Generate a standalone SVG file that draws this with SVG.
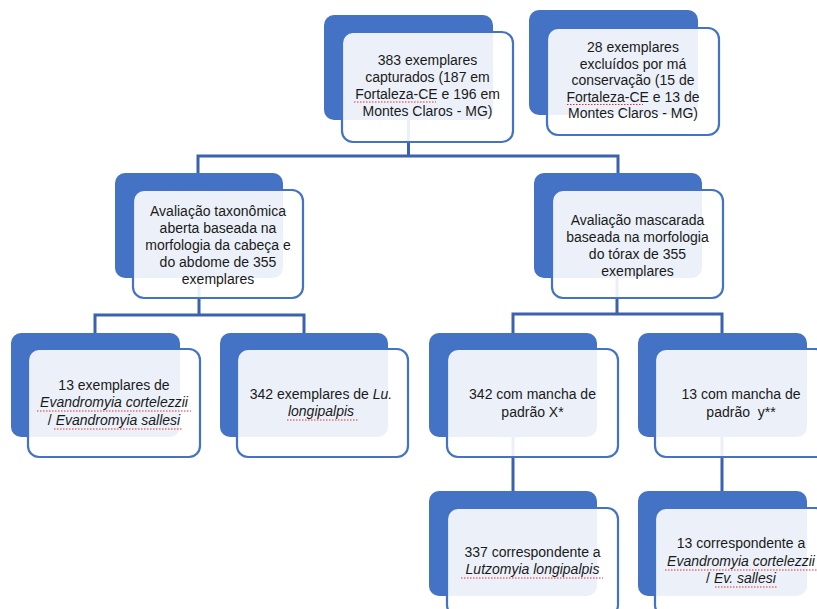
<svg xmlns="http://www.w3.org/2000/svg" width="817" height="609" viewBox="0 0 817 609">
<style>
.back{fill:#4472C4;}
.front{fill:#FFFFFF;fill-opacity:0.9;stroke:#4472C4;stroke-width:2.2;}
.conn{stroke:#3A62AE;stroke-width:3;fill:none;}
text{font-family:"Liberation Sans",Arial,sans-serif;font-size:14px;fill:#1a1a1a;text-anchor:middle;}
.it{font-style:italic;}
.sq{stroke:#E03030;stroke-width:1;fill:none;stroke-dasharray:1.5 1.5;}
</style>
<rect width="817" height="609" fill="#FFFFFF"/>
<g id="connectors">
<path class="conn" d="M408.5,120 V156 M198,156 H618 M198,154.5 V173 M618,154.5 V173"/>
<path class="conn" d="M199,278 V315 M95,315 H304 M95,313.5 V333 M304,313.5 V333"/>
<path class="conn" d="M617,278 V314 M513,314 H722 M513,312.5 V333 M722,312.5 V333"/>
<path class="conn" d="M513,437 V491 M722,437 V491"/>
</g>
<g id="n-capturados">
<rect class="back" x="324" y="15" width="169" height="105" rx="10"/>
<rect class="front" x="342" y="32" width="171" height="110" rx="11"/>
<text x="427.5" y="65">383 exemplares</text>
<text x="427.5" y="82">capturados (187 em</text>
<text x="427.5" y="99">Fortaleza-CE e 196 em</text>
<text x="427.5" y="116">Montes Claros - MG)</text>
<path class="sq" d="M354,102 H436"/>
</g>
<g id="n-excluidos">
<rect class="back" x="529" y="10" width="169" height="105" rx="10"/>
<rect class="front" x="547" y="28" width="172" height="107" rx="11"/>
<text x="633" y="52">28 exemplares</text>
<text x="633" y="68.5">excluídos por má</text>
<text x="633" y="85">conservação (15 de</text>
<text x="633" y="101.5">Fortaleza-CE e 13 de</text>
<text x="633" y="118">Montes Claros - MG)</text>
<path class="sq" d="M567,104.5 H643"/>
</g>
<g id="n-taxonomica">
<rect class="back" x="115" y="173" width="168" height="105" rx="10"/>
<rect class="front" x="133" y="190" width="170" height="108" rx="11"/>
<text x="218" y="216">Avaliação taxonômica</text>
<text x="218" y="233">aberta baseada na</text>
<text x="218" y="250">morfologia da cabeça e</text>
<text x="218" y="267">do abdome de 355</text>
<text x="218" y="284">exemplares</text>
</g>
<g id="n-mascarada">
<rect class="back" x="534" y="173" width="168" height="105" rx="10"/>
<rect class="front" x="552" y="190" width="171" height="108" rx="11"/>
<text x="637.5" y="225">Avaliação mascarada</text>
<text x="637.5" y="242">baseada na morfologia</text>
<text x="637.5" y="259">do tórax de 355</text>
<text x="637.5" y="276">exemplares</text>
</g>
<g id="n-evandromyia">
<rect class="back" x="11" y="333" width="169" height="104" rx="10"/>
<rect class="front" x="28" y="349" width="172" height="108" rx="11"/>
<text x="114" y="390">13 exemplares de</text>
<text x="114" y="407" class="it">Evandromyia cortelezzii</text>
<text x="114" y="425"><tspan>/ </tspan><tspan class="it">Evandromyia sallesi</tspan></text>
<path class="sq" d="M37,411 H191 M54,429 H183"/>
</g>
<g id="n-longipalpis">
<rect class="back" x="220" y="333" width="168" height="104" rx="10"/>
<rect class="front" x="237" y="349" width="171" height="108" rx="11"/>
<text x="321" y="399">342 exemplares de <tspan class="it">Lu.</tspan></text>
<text x="321" y="416" class="it">longipalpis</text>
<path class="sq" d="M287,420 H358"/>
</g>
<g id="n-padraoX">
<rect class="back" x="429" y="333" width="168" height="104" rx="10"/>
<rect class="front" x="447" y="349" width="171" height="108" rx="11"/>
<text x="532.5" y="399">342 com mancha de</text>
<text x="532.5" y="417">padrão X*</text>
</g>
<g id="n-padraoY">
<rect class="back" x="638" y="333" width="169" height="104" rx="10"/>
<rect class="front" x="655" y="349" width="171" height="108" rx="11"/>
<text x="741" y="399">13 com mancha de</text>
<text x="741" y="417" xml:space="preserve">padrão  y**</text>
</g>
<g id="n-lutzomyia">
<rect class="back" x="429" y="491" width="168" height="105" rx="10"/>
<rect class="front" x="447" y="508" width="171" height="108" rx="11"/>
<text x="532.5" y="557">337 correspondente a</text>
<text x="532.5" y="574" class="it">Lutzomyia longipalpis</text>
<path class="sq" d="M461,578 H603"/>
</g>
<g id="n-ev-sallesi">
<rect class="back" x="638" y="491" width="169" height="105" rx="10"/>
<rect class="front" x="655" y="508" width="171" height="108" rx="11"/>
<text x="741" y="548">13 correspondente a</text>
<text x="741" y="566" class="it">Evandromyia cortelezzii</text>
<text x="741" y="583"><tspan>/ </tspan><tspan class="it">Ev. sallesi</tspan></text>
<path class="sq" d="M665,570 H817 M715,587 H778"/>
</g>
</svg>
